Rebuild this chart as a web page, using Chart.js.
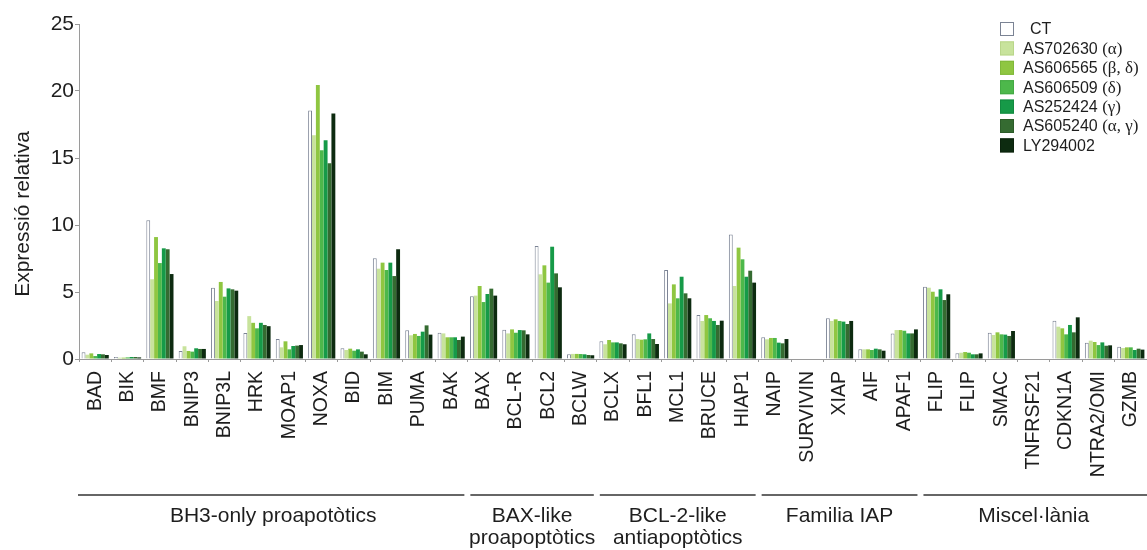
<!DOCTYPE html>
<html>
<head>
<meta charset="utf-8">
<script src="https://cdn.jsdelivr.net/npm/chart.js@4.4.1/dist/chart.umd.min.js"></script>
<style>
  html, body { margin: 0; padding: 0; background: #ffffff; overflow: hidden; }
  #wrap { width: 1147px; height: 550px; position: relative; }
</style>
</head>
<body>
<div id="wrap"><canvas id="chart" width="1147" height="550"></canvas></div>
<script>
// Genes on the x axis
const genes = ['BAD','BIK','BMF','BNIP3','BNIP3L','HRK','MOAP1','NOXA','BID','BIM','PUMA','BAK',
  'BAX','BCL-R','BCL2','BCLW',
  'BCLX','BFL1','MCL1','BRUCE','HIAP1',
  'NAIP','SURVIVIN','XIAP','AIF','APAF1',
  'FLIP','FLIP','SMAC','TNFRSF21','CDKN1A','NTRA2/OMI','GZMB'];

// Treatments (legend labels)
const treatments = ['CT','AS702630 (α)','AS606565 (β, δ)','AS606509 (δ)','AS252424 (γ)','AS605240 (α, γ)','LY294002'];

// Relative expression per treatment, one value per gene
const ctValues      = [0.50,0.15,10.35,0.60,5.32,1.94,1.49,18.55,0.80,7.51,2.14,1.96, 4.68,2.19,8.43,0.35, 1.32,1.84,6.64,3.28,9.30, 1.62,0,3.04,0.72,1.91, 5.40,0.42,1.96,0,2.86,1.22,0.92];
const as702630      = [0.32,0.10,5.95,0.95,4.33,3.20,0.87,16.70,0.67,6.74,1.77,1.91, 4.73,1.91,6.32,0.38, 1.10,1.49,4.15,2.84,5.45, 1.47,0,2.84,0.72,2.16, 5.32,0.47,1.79,0,2.41,1.37,0.82];
const as606565      = [0.42,0.10,9.10,0.60,5.75,2.70,1.32,20.45,0.77,7.19,1.87,1.62, 5.45,2.21,6.99,0.38, 1.42,1.44,5.57,3.28,8.31, 1.57,0,2.96,0.72,2.16, 5.02,0.52,1.99,0,2.29,1.27,0.87];
const as606509      = [0.22,0.12,7.16,0.55,4.65,2.29,0.72,15.57,0.62,6.64,1.72,1.62, 4.25,1.96,5.70,0.37, 1.24,1.47,4.53,3.04,7.44, 1.57,0,2.84,0.67,2.11, 4.65,0.47,1.84,0,1.84,1.04,0.87];
const as252424      = [0.37,0.15,8.26,0.80,5.27,2.70,0.97,16.32,0.72,7.19,2.04,1.62, 4.85,2.16,8.38,0.35, 1.24,1.91,6.14,2.84,6.14, 1.22,0,2.79,0.77,1.91, 5.20,0.35,1.82,0,2.54,1.24,0.67];
const as605240      = [0.35,0.15,8.19,0.75,5.20,2.54,1.00,14.60,0.55,6.19,2.51,1.42, 5.25,2.14,6.39,0.30, 1.17,1.49,4.90,2.54,6.59, 1.17,0,2.61,0.72,1.91, 4.40,0.35,1.72,0,1.99,0.99,0.77];
const ly294002      = [0.30,0.12,6.34,0.75,5.10,2.45,1.04,18.33,0.35,8.19,1.82,1.67, 4.73,1.84,5.35,0.28, 1.10,1.12,4.53,2.86,5.70, 1.49,0,2.84,0.62,2.21, 4.83,0.42,2.09,0,3.11,1.02,0.70];

// Gene families shown under the axis: caption lines and number of genes in each
const familyCaptions = [['BH3-only proapotòtics'], ['BAX-like','proapoptòtics'], ['BCL-2-like','antiapoptòtics'], ['Familia IAP'], ['Miscel·lània']];
const familySizes = [12, 4, 5, 5, 7];

// Y axis tick values
const yTickValues = [0, 5, 10, 15, 20, 25];

const seriesValues = [ctValues, as702630, as606565, as606509, as252424, as605240, ly294002];
const fills   = ['#ffffff','#c8e39c','#8fc641','#4db84b','#169a48','#356b31','#0d2b10'];
const borders = ['#7b8394','#b9d68a','#80b83a','#43a943','#128a40','#2c5c29','#0a220c'];

const SANS = "'Liberation Sans', Arial, sans-serif";
const SERIF = "'Liberation Serif', 'Times New Roman', serif";
const TEXT = '#1e1e1e';
Chart.defaults.font.family = SANS;
Chart.defaults.color = TEXT;

// Rotated y-axis title
const yTitlePlugin = {
  id: 'yTitle',
  afterDraw(chart, args, opts) {
    const ctx = chart.ctx;
    ctx.save();
    ctx.translate(opts.x, opts.y);
    ctx.rotate(-Math.PI / 2);
    ctx.font = `${opts.size}px ${SANS}`;
    ctx.fillStyle = TEXT;
    ctx.textAlign = 'center';
    ctx.textBaseline = 'middle';
    ctx.fillText(opts.text, 0, 0);
    ctx.restore();
  }
};

// Family brackets (rule + caption) under the gene labels
const familyPlugin = {
  id: 'families',
  afterDraw(chart, args, opts) {
    const ctx = chart.ctx;
    const x = chart.scales.x;
    const half = (x.getPixelForValue(1) - x.getPixelForValue(0)) / 2;
    let start = 0;
    ctx.save();
    familySizes.forEach((n, i) => {
      const end = start + n - 1;
      const xl = x.getPixelForValue(start) - half;
      const xr = x.getPixelForValue(end) + half;
      const l = i === 0 ? xl - 1 : xl + opts.gap;
      const r = i === familySizes.length - 1 ? chart.width : xr - opts.gap;
      ctx.strokeStyle = '#333333';
      ctx.lineWidth = 1.6;
      ctx.beginPath();
      ctx.moveTo(l, opts.lineY);
      ctx.lineTo(r, opts.lineY);
      ctx.stroke();
      ctx.fillStyle = TEXT;
      ctx.font = `${opts.size}px ${SANS}`;
      ctx.textAlign = 'center';
      ctx.textBaseline = 'middle';
      familyCaptions[i].forEach((line, k) => {
        ctx.fillText(line, (xl + xr) / 2, opts.textY + k * opts.lineHeight);
      });
      start = end + 1;
    });
    ctx.restore();
  }
};

// Legend with the isoform part of each label set in a serif face
const legendPlugin = {
  id: 'seriesLegend',
  afterDraw(chart, args, opts) {
    const ctx = chart.ctx;
    ctx.save();
    chart.data.datasets.forEach((ds, i) => {
      const top = opts.y + i * opts.row;
      ctx.fillStyle = ds.backgroundColor;
      ctx.fillRect(opts.x, top, opts.box, opts.box);
      ctx.strokeStyle = ds.borderColor;
      ctx.lineWidth = 1;
      ctx.strokeRect(opts.x + 0.5, top + 0.5, opts.box - 1, opts.box - 1);
      const label = ds.label;
      const cut = label.indexOf(' (');
      const main = cut < 0 ? label : label.slice(0, cut + 1);
      const rest = cut < 0 ? '' : label.slice(cut + 1);
      const cy = top + opts.box / 2 + 1;
      let tx = opts.x + opts.box + (i === 0 ? opts.textGap + 7 : opts.textGap);
      ctx.fillStyle = TEXT;
      ctx.textAlign = 'left';
      ctx.textBaseline = 'middle';
      ctx.font = `${opts.size}px ${SANS}`;
      ctx.fillText(main, tx, cy);
      tx += ctx.measureText(main).width;
      if (rest) {
        ctx.font = `${opts.size + 1}px ${SERIF}`;
        ctx.fillText(rest, tx, cy);
      }
    });
    ctx.restore();
  }
};

const datasets = treatments.map((name, i) => ({
  label: name,
  data: seriesValues[i],
  backgroundColor: fills[i],
  borderColor: borders[i],
  borderWidth: i === 0 ? 1 : 0,
  categoryPercentage: 0.84,
  barPercentage: 1.0
}));

new Chart(document.getElementById('chart'), {
  type: 'bar',
  data: { labels: genes, datasets },
  options: {
    responsive: false,
    animation: false,
    devicePixelRatio: 1,
    layout: { padding: { top: 24, right: 0, bottom: 0, left: 0 } },
    plugins: {
      legend: { display: false },
      tooltip: { enabled: false },
      yTitle: { text: 'Expressió relativa', x: 23, y: 214, size: 21 },
      families: { lineY: 495, textY: 516, lineHeight: 22, size: 21, gap: 3 },
      seriesLegend: { x: 1000, y: 22, row: 19.4, box: 14, textGap: 9, size: 16 }
    },
    scales: {
      x: {
        border: { display: true, color: '#9a9a9a', width: 1 },
        grid: { display: true, drawOnChartArea: false, drawTicks: true, tickLength: 3, color: '#9a9a9a', offset: true },
        ticks: {
          autoSkip: false, maxRotation: 90, minRotation: 90, padding: 9,
          color: TEXT, font: { size: 19.5, family: SANS }
        },
        afterFit(scale) { scale.height = 191; scale.paddingLeft = 0; scale.paddingRight = 0; }
      },
      y: {
        min: 0, max: 25,
        border: { display: true, color: '#9a9a9a', width: 1 },
        grid: { display: true, drawOnChartArea: false, drawTicks: true, tickLength: 4, color: '#9a9a9a' },
        afterBuildTicks(scale) { scale.ticks = yTickValues.map(v => ({ value: v })); },
        ticks: { padding: 1, color: TEXT, font: { size: 21, family: SANS } },
        afterFit(scale) { scale.width = 79; }
      }
    }
  },
  plugins: [yTitlePlugin, familyPlugin, legendPlugin]
});
</script>
</body>
</html>
